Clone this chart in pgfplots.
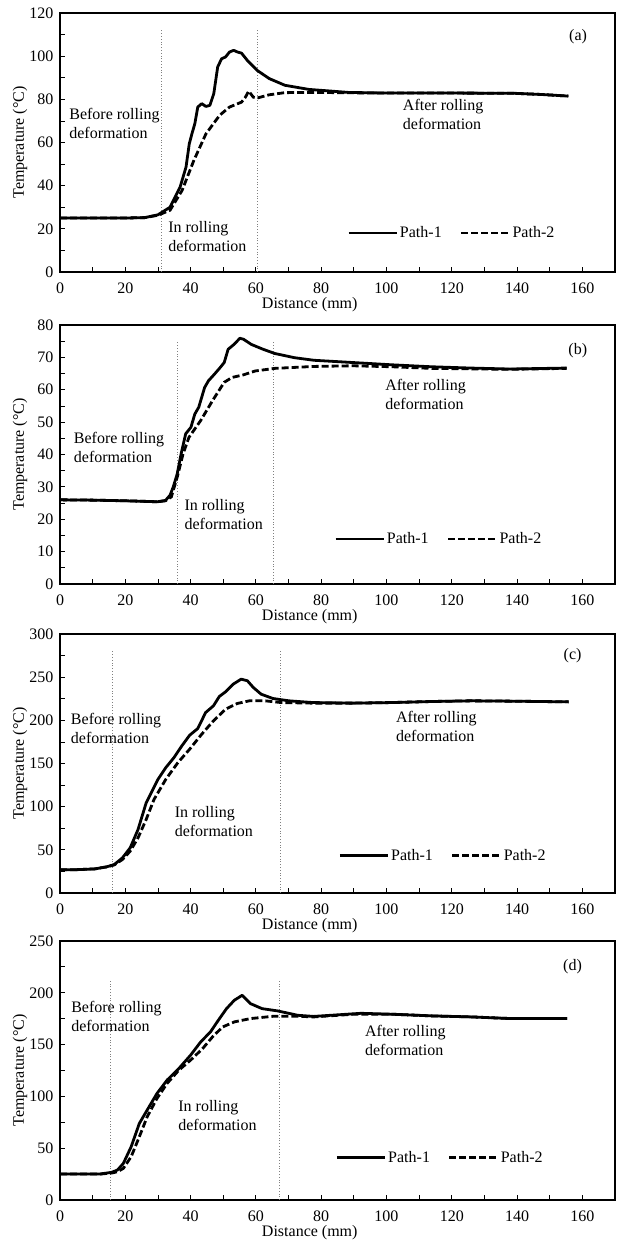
\documentclass[border=0pt]{standalone}
\usepackage{fontspec}
\setmainfont{Liberation Serif}
\usepackage{pgfplots}
\pgfplotsset{compat=1.18}

\pgfplotsset{
  panel/.style={
    scale only axis, width=555pt, height=259pt,
    anchor=south west,
    xmin=0, xmax=170,
    xtick={0,20,...,160}, minor xtick={10,30,...,150},
    tick align=inside, xtick pos=left, ytick pos=left,
    major tick length=5pt, minor tick length=5pt,
    every tick/.style={black, line width=0.8pt},
    every minor tick/.style={black, line width=0.8pt},
    axis line style={line width=1.8pt},
    /pgf/number format/assume math mode=true,
    xticklabel style={yshift=-7pt},
    yticklabel style={xshift=-3pt},
    xlabel={Distance (mm)},
    xlabel style={at={(axis description cs:0.45,0)}, anchor=center, yshift=-33pt},
    ylabel={Temperature (°C)},
    ylabel style={at={(axis description cs:-0.072,0.5)}, anchor=center, rotate=0},
    legend columns=2,
    legend image code/.code={\draw[#1] (0pt,0pt) -- (48pt,0pt);},
    legend style={draw=none, fill=none, anchor=center,
      /tikz/every even column/.append style={column sep=16pt},
      nodes={inner sep=2pt}},
  },
  p1/.style={black, line width=2.8pt, line join=round},
  p2/.style={black, line width=2.8pt, dash pattern=on 7pt off 3pt},
  sep/.style={gray, dotted, line width=0.8pt, forget plot},
}

\begin{document}
\begin{tikzpicture}[font=\fontsize{16pt}{19pt}\selectfont]
\useasboundingbox (0,0) rectangle (617pt,1245pt);

% (a)
\begin{axis}[panel, at={(60pt,973pt)},
  ymin=0, ymax=120, ytick={0,20,...,120}, minor ytick={10,30,...,110},
  legend style={at={(axis cs:120,18.1)}}]
\addplot[sep] coordinates {(31,0) (31,112)};
\addplot[sep] coordinates {(60.5,0) (60.5,112)};
\addplot[p1] coordinates {
 (0,25) (10,25) (20,25) (26,25.2) (30,26.5) (33.7,30) (36.8,39.4) (38.6,48.6)
 (39.6,59.4) (40.4,64) (41.3,68.7) (42.2,76.4) (43.4,78) (44.7,76.7) (45.9,77.2)
 (47.1,82.6) (48.3,95) (49.5,98.8) (50.7,99.6) (51.9,101.9) (53.2,102.7)
 (54.4,101.9) (55.6,101.4) (57.4,98) (60.4,93.4) (64.1,89.6) (68.9,86.5)
 (76.2,84.6) (88.3,83.2) (100,82.9) (120,82.9) (139,82.8) (148,82.2) (155.7,81.5)
};
\addlegendentry{Path-1}
\addplot[p2] coordinates {
 (0,25) (10,25) (20,25) (26,25.2) (30,26.3) (33.7,28.6) (37.4,37.8) (41,51.7)
 (44.7,64) (48.9,72.6) (51.9,76.4) (55.6,78.7) (56.8,81) (57.8,83.8) (59.2,81)
 (60.4,80.6) (64.1,82.1) (68.9,83.1) (78,83.2) (90,83) (100,82.9) (120,82.9)
 (139,82.8) (148,82.2) (155.7,81.5)
};
\addlegendentry{Path-2}
\node[anchor=west, align=left, inner sep=0pt] at (axis cs:2.8,69) {Before rolling\\deformation};
\node[anchor=west, align=left, inner sep=0pt] at (axis cs:33.1,16.6) {In rolling\\deformation};
\node[anchor=west, align=left, inner sep=0pt] at (axis cs:105,73) {After rolling\\deformation};
\node at (axis cs:158.7,108.9) {(a)};
\end{axis}

% (b)
\begin{axis}[panel, at={(60pt,661pt)},
  ymin=0, ymax=80, ytick={0,10,...,80}, minor ytick={5,15,...,75},
  legend style={at={(axis cs:116,13.9)}}]
\addplot[sep] coordinates {(35.9,0) (35.9,75)};
\addplot[sep] coordinates {(65.4,0) (65.4,75)};
\addplot[p1] coordinates {
 (0,26) (10,25.9) (20,25.7) (29.9,25.4) (32.3,25.8) (33.7,27.4) (34.7,30)
 (35.9,34) (37.1,40.2) (38.5,46.4) (40.1,48.4) (41.3,52.5) (42.5,54.6)
 (44.3,60.7) (45.5,62.8) (47.3,64.8) (49.1,66.9) (50.3,68.4) (51.5,72.5)
 (53.3,74) (55.1,75.9) (56.2,75.6) (58.6,74) (62.2,72.5) (65.8,71.2)
 (71.8,69.9) (77.8,69.1) (89.8,68.4) (101.7,67.7) (113.7,67.1) (125.7,66.7)
 (137.6,66.4) (149.6,66.6) (155.2,66.7)
};
\addlegendentry{Path-1}
\addplot[p2] coordinates {
 (0,26) (10,25.9) (20,25.7) (29.9,25.4) (32.3,25.7) (34.1,26.9) (35.9,33)
 (37.7,40.2) (39.5,45.3) (43.1,50.5) (46.7,56.6) (50.3,62.3) (52.7,63.8)
 (56.2,64.6) (59.8,65.8) (65.8,66.6) (77.8,67.2) (89.8,67.4) (101.7,67.1)
 (113.7,66.6) (137.6,66.3) (149.6,66.5) (155.2,66.6)
};
\addlegendentry{Path-2}
\node[anchor=west, align=left, inner sep=0pt] at (axis cs:4.2,42.2) {Before rolling\\deformation};
\node[anchor=west, align=left, inner sep=0pt] at (axis cs:38.1,21.5) {In rolling\\deformation};
\node[anchor=west, align=left, inner sep=0pt] at (axis cs:99.6,58.7) {After rolling\\deformation};
\node at (axis cs:158.6,72.2) {(b)};
\end{axis}

% (c)
\begin{axis}[panel, at={(60pt,352pt)},
  ymin=0, ymax=300, ytick={0,50,...,300}, minor ytick={25,75,...,275},
  legend style={at={(axis cs:117.3,43.7)}}]
\addplot[sep] coordinates {(16,0) (16,282)};
\addplot[sep] coordinates {(67.4,0) (67.4,282)};
\addplot[p1] coordinates {
 (0,27) (5,27) (10.6,27.9) (14.2,30.2) (16.6,32.9) (19.1,40.6) (21.5,52.3)
 (23.9,73.5) (26.4,104.5) (28.2,118) (30,131.6) (32.4,145.2) (34.9,156.8)
 (37.3,170.3) (39.7,182.7) (42.2,190.5) (44.6,209) (47,216.8) (48.8,227.6)
 (50.7,233) (53.1,242) (55.5,247.7) (57.4,245.8) (59.2,238.1) (61.6,230.3)
 (65.2,225.3) (70.1,222.6) (77.4,220.6) (89.5,219.9) (101.7,220.6)
 (113.9,221.8) (126,222.6) (138.2,222.2) (155.8,221.4)
};
\addlegendentry{Path-1}
\addplot[p2] coordinates {
 (0,27) (5,27) (10.6,27.9) (14.2,30.2) (16.6,32.5) (19.1,38.7) (21.5,48.4)
 (23.9,63.9) (26.4,85.2) (28.8,108.4) (32.4,131.6) (36.1,151) (39.7,166.5)
 (43.4,183.9) (47,199.4) (50.7,212.9) (54.3,219.5) (58,222.6) (62.8,222.6)
 (67.7,220.6) (77.4,219.9) (89.5,219.9) (101.7,220.6) (113.9,221.8)
 (126,222.6) (138.2,222.2) (155.8,221.4)
};
\addlegendentry{Path-2}
\node[anchor=west, align=left, inner sep=0pt] at (axis cs:3.3,190.7) {Before rolling\\deformation};
\node[anchor=west, align=left, inner sep=0pt] at (axis cs:35.1,82.7) {In rolling\\deformation};
\node[anchor=west, align=left, inner sep=0pt] at (axis cs:102.9,192.5) {After rolling\\deformation};
\node at (axis cs:157,274.8) {(c)};
\end{axis}

% (d)
\begin{axis}[panel, at={(60pt,45pt)},
  ymin=0, ymax=250, ytick={0,50,...,250}, minor ytick={25,75,...,225},
  legend style={at={(axis cs:116.4,41.1)}}]
\addplot[sep] coordinates {(15.5,0) (15.5,212.7)};
\addplot[sep] coordinates {(67.1,0) (67.1,212.7)};
\addplot[p1] coordinates {
 (0,25) (6,25) (12.1,25) (15.8,26.7) (17.6,28.9) (19.4,35.3) (21.8,51.4)
 (24.3,73.9) (26.7,86.8) (29.7,102.8) (32.8,115.7) (36.4,126.9) (40,139.8)
 (43.1,152.6) (46.1,162.3) (48.5,173.5) (51,184.7) (53.4,192.8) (55.8,197.6)
 (58.3,189.6) (61.9,184.7) (66.7,182.5) (72.8,178.3) (77.7,177.2) (84,178.5)
 (92.2,180.2) (101.9,179.3) (114,177.7) (126.2,176.7) (138.3,175.1) (155.3,175.1)
};
\addlegendentry{Path-1}
\addplot[p2] coordinates {
 (0,25) (6,25) (12.1,25) (15.8,26) (17.6,27.3) (19.4,30.5) (21.8,41.8)
 (24.3,61) (26.7,80.3) (29.7,98) (32.8,112.5) (36.4,125.3) (40,135)
 (43.7,146.2) (46.7,157.4) (49.8,167) (53.4,171.9) (58.3,175.1) (65.5,177.4)
 (72.8,177.4) (77.7,176.7) (89.8,179.3) (101.9,179.3) (114,177.7)
 (126.2,176.7) (138.3,175.1) (155.3,175.1)
};
\addlegendentry{Path-2}
\node[anchor=west, align=left, inner sep=0pt] at (axis cs:3.4,177) {Before rolling\\deformation};
\node[anchor=west, align=left, inner sep=0pt] at (axis cs:36.2,81.2) {In rolling\\deformation};
\node[anchor=west, align=left, inner sep=0pt] at (axis cs:93.4,154.4) {After rolling\\deformation};
\node at (axis cs:157,225.6) {(d)};
\end{axis}
\end{tikzpicture}
\end{document}
